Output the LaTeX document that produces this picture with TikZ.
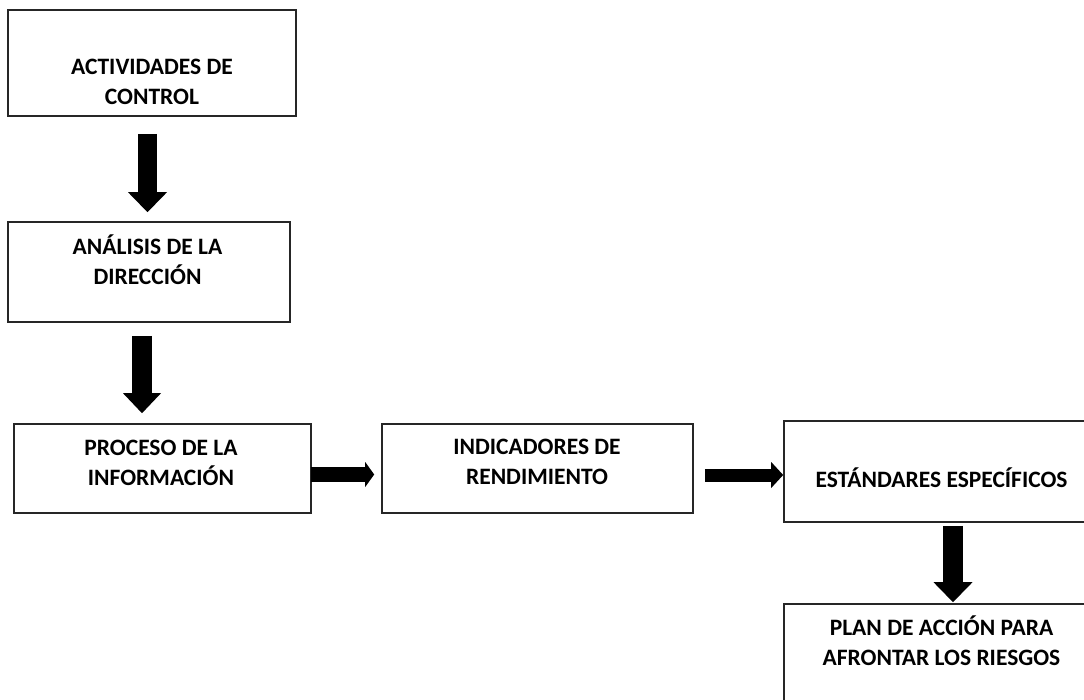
\documentclass[tikz,border=0pt]{standalone}
\usepackage{fontspec}
\setmainfont{Carlito}
\usetikzlibrary{arrows.meta, positioning}

\begin{document}
\begin{tikzpicture}[x=1pt, y=-1pt,
    box/.style={draw=black!85, line width=1.6pt, rectangle, inner sep=0pt},
    txt/.style={font=\bfseries\fontsize{23.5}{30}\selectfont, align=center, anchor=base, inner sep=0pt},
    blk/.style n args={3}{line width=#1, -{Triangle[width=#2, length=#3, line width=0pt]}}]
      \useasboundingbox (0,0) rectangle (1084,700);
      \clip (0,0) rectangle (1084,700);

      % boxes
      \node[box, minimum width=288pt, minimum height=106pt] (act) at (152,63) {};
      \node[box, minimum width=282pt, minimum height=100pt] (ana) at (149,272) {};
      \node[box, minimum width=297pt, minimum height=89pt] (pro) at (162.5,468.5) {};
      \node[box, minimum width=311pt, minimum height=89pt] (ind) at (537.5,468.5) {};
      \node[box, minimum width=311pt, minimum height=101pt] (est) at (939.5,471.5) {};
      \node[box, minimum width=311pt, minimum height=108pt] (plan) at (939.5,658) {};

      % texts (base = last line)
      \node[txt] (actT) at (152,104.5) {ACTIVIDADES DE\\CONTROL};
      \node[txt] (anaT) at (147.5,284.5) {ANÁLISIS DE LA\\DIRECCIÓN};
      \node[txt] (proT) at (161,485.5) {PROCESO DE LA\\INFORMACIÓN};
      \node[txt] (indT) at (537,484.5) {INDICADORES DE\\RENDIMIENTO};
      \node[txt] (estT) at (941.5,487.5) {ESTÁNDARES ESPECÍFICOS};
      \node[txt] (planT) at (941.5,665.5) {PLAN DE ACCIÓN PARA\\AFRONTAR LOS RIESGOS};

      % arrows
      \draw[blk={19pt}{39pt}{20pt}] ([xshift=-4.5pt,yshift=-17pt]act.south) -- ([xshift=-1.5pt,yshift=9pt]ana.north);
      \draw[blk={20pt}{38pt}{20pt}] ([xshift=-7pt,yshift=-13pt]ana.south) -- ([xshift=-20.5pt,yshift=10pt]pro.north);
      \draw[blk={15pt}{25pt}{9pt}] ([xshift=-1pt,yshift=-6pt]pro.east) -- ([xshift=-7pt,yshift=-6pt]ind.west);
      \draw[blk={13pt}{26pt}{12pt}] ([xshift=11pt,yshift=-6.5pt]ind.east) -- ([yshift=-3.5pt]est.west);
      \draw[blk={20pt}{39pt}{20pt}] ([xshift=13.5pt,yshift=-3pt]est.south) -- ([xshift=13.5pt,yshift=1pt]plan.north);
\end{tikzpicture}
\end{document}
